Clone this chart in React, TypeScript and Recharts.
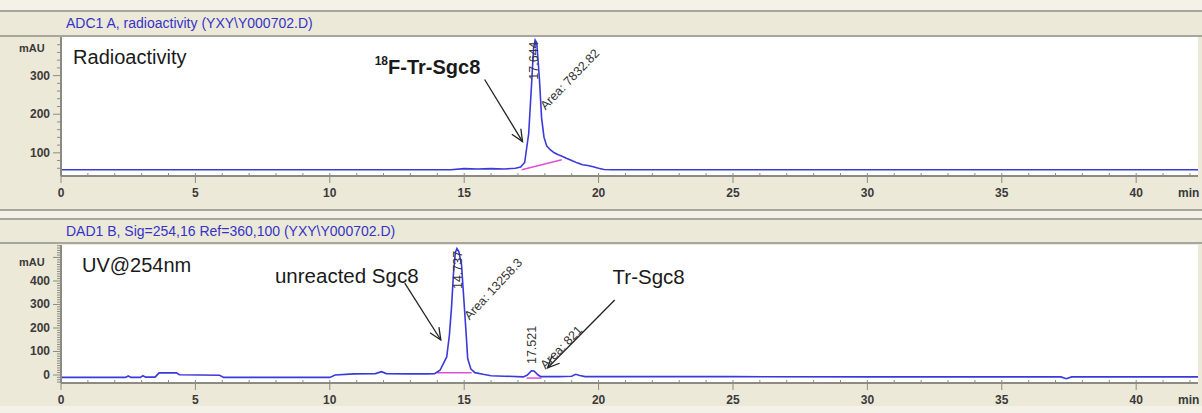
import { CartesianGrid, Line, LineChart, ReferenceDot, ReferenceLine, XAxis, YAxis } from "recharts";

const FONT = '"Liberation Sans", Arial, sans-serif';
const BEIGE = "#ECE9D8";
const LIGHT = "#F4F2E8";
const RULE = "#A7A69C";
const AXIS_GREY = "#8C8B82";
const TRACE = "#3A3ADC";
const PINK = "#E04FD8";
const HEAD_BLUE = "#3434C8";
const INK = "#1A1A1A";
const TICK_INK = "#3a3a3a";

// retention time (min)
const xTicks = [0, 1, 2, 3, 4, 5, 6, 7, 8, 9, 10, 11, 12, 13, 14, 15, 16, 17, 18, 19, 20, 21, 22, 23, 24, 25, 26, 27, 28, 29, 30, 31, 32, 33, 34, 35, 36, 37, 38, 39, 40, 41, 42];
const xLabels = [0, 5, 10, 15, 20, 25, 30, 35, 40];

// radioactivity trace (mAU)
const radTime = [0, 5, 10, 14.5, 15.0, 15.5, 16.0, 16.5, 16.9, 17.1, 17.25, 17.4, 17.5, 17.58, 17.64, 17.7, 17.8, 17.88, 17.97, 18.07, 18.2, 18.35, 18.5, 18.62, 18.8, 19.0, 19.2, 19.4, 19.6, 19.8, 20.0, 20.2, 20.5, 25, 30, 35, 42.3];
const radSignal = [56, 56, 56, 56, 59, 58, 59, 58, 60, 63, 75, 150, 270, 370, 392, 385, 290, 190, 140, 118, 108, 100, 95, 92, 86, 80, 74, 69, 67, 64, 60, 57, 56, 56, 56, 56, 56];
const radBaseTime = [17.14, 18.63];
const radBaseSignal = [56, 82];
const radYTicks = [60, 80, 100, 120, 140, 160, 180, 200, 220, 240, 260, 280, 300, 320, 340, 360, 380];
const radYLabels = [100, 200, 300];

// UV 254 nm trace (mAU)
const uvTime = [0, 2.4, 2.5, 2.6, 2.95, 3.05, 3.15, 3.5, 3.65, 4.3, 4.4, 5.9, 6.05, 10.0, 10.2, 10.9, 11.7, 11.92, 12.1, 13.0, 13.6, 13.9, 14.1, 14.35, 14.45, 14.53, 14.6, 14.67, 14.73, 14.8, 14.9, 15.0, 15.07, 15.13, 15.25, 15.4, 15.7, 16.0, 16.5, 17.2, 17.35, 17.5, 17.6, 17.75, 17.85, 18.5, 19.0, 19.15, 19.3, 19.5, 25, 30, 37.2, 37.4, 37.6, 42.3];
const uvSignal = [-10, -10, -4, -10, -10, -3, -9, -9, 9, 9, 1, -1, -10, -10, 0, 5, 6, 14, 6, 5, 5, 6, 20, 77, 170, 290, 430, 520, 538, 525, 470, 300, 180, 70, 25, 10, 3, -3, -5, -8, 0, 18, 17, 0, -7, -7, -5, 3, -2, -7, -7, -8, -8, -16, -8, -8];
const uvBaseATime = [13.98, 15.28];
const uvBaseASignal = [10, 10];
const uvBaseBTime = [17.32, 17.88];
const uvBaseBSignal = [-13, -13];
const uvYTicks = [-30, -20, -10, 0, 10, 20, 30, 40, 50, 60, 70, 80, 90, 100, 110, 120, 130, 140, 150, 160, 170, 180, 190, 200, 210, 220, 230, 240, 250, 260, 270, 280, 290, 300, 310, 320, 330, 340, 350, 360, 370, 380, 390, 400, 410, 420, 430, 440, 450, 460, 470, 480, 490, 500, 510, 520, 530, 540, 550];
const uvYLabels = [0, 100, 200, 300, 400];

const zip = (t: number[], v: number[]) => t.map((x, i) => ({ t: x, v: v[i] }));

type Note = { text: any; t: number; v: number; size: number; bold?: boolean; rotate?: number; anchor?: string };
type Arrow = { from: [number, number]; to: [number, number] };

const radNotes: Note[] = [
  { text: "Radioactivity", t: 0.45, v: 347, size: 20 },
  { text: "sup", t: 11.67, v: 323, size: 20, bold: true },
  { text: "17.644", t: 17.58, v: 339, size: 12.5, rotate: -90, anchor: "middle" },
  { text: "Area: 7832.82", t: 17.92, v: 217, size: 12.5, rotate: -46 },
];
const radArrows: Arrow[] = [{ from: [15.76, 290], to: [17.17, 129] }];

const uvNotes: Note[] = [
  { text: "UV@254nm", t: 0.78, v: 468, size: 20 },
  { text: "unreacted Sgc8", t: 7.96, v: 425, size: 20.5 },
  { text: "14.737", t: 14.76, v: 447, size: 12.5, rotate: -90, anchor: "middle" },
  { text: "Area: 13258.3", t: 15.09, v: 243, size: 12.5, rotate: -47 },
  { text: "17.521", t: 17.51, v: 128, size: 12.5, rotate: -90, anchor: "middle" },
  { text: "Area: 821", t: 17.92, v: 34, size: 12.5, rotate: -46 },
  { text: "Tr-Sgc8", t: 20.52, v: 417, size: 20.5 },
];
const uvArrows: Arrow[] = [
  { from: [12.79, 391], to: [14.13, 149] },
  { from: [20.6, 319], to: [18.1, 30] },
];

function renderXTick(p: any) {
  const { x, y, payload } = p;
  const major = xLabels.includes(payload.value);
  return (
    <g>
      <line x1={x} x2={x} y1={y - 3} y2={major ? y + 7 : y + 1} stroke={AXIS_GREY} strokeWidth={1} />
      {major && (
        <text x={x} y={y + 17} textAnchor="middle" dominantBaseline="central" fontSize={12} fontWeight="bold" fontFamily={FONT} fill={TICK_INK}>
          {payload.value}
        </text>
      )}
    </g>
  );
}

const makeYTick = (labels: number[]) => (p: any) => {
  const { x, y, payload } = p;
  const major = payload.value % 100 === 0;
  const show = labels.includes(payload.value);
  return (
    <g>
      <line x1={x - (major ? 8 : 4)} x2={x} y1={y} y2={y} stroke={AXIS_GREY} strokeWidth={1} />
      {show && (
        <text x={x - 11} y={y} textAnchor="end" dominantBaseline="central" fontSize={12} fontWeight="bold" fontFamily={FONT} fill={TICK_INK}>
          {payload.value}
        </text>
      )}
    </g>
  );
};

function NoteText({ n, cx, cy }: { n: Note; cx: number; cy: number }) {
  const tf = n.rotate ? `rotate(${n.rotate} ${cx} ${cy})` : undefined;
  if (n.text === "sup") {
    return (
      <text x={cx} y={cy} dominantBaseline="central" fontFamily={FONT} fontWeight="bold" fill={INK}>
        <tspan fontSize={12} dy={-6}>18</tspan>
        <tspan fontSize={n.size} dy={6}>F-Tr-Sgc8</tspan>
      </text>
    );
  }
  return (
    <text
      x={cx}
      y={cy}
      transform={tf}
      textAnchor={n.anchor ?? "start"}
      dominantBaseline="central"
      fontSize={n.size}
      fontWeight={n.bold ? "bold" : "normal"}
      fontFamily={FONT}
      fill={n.rotate ? "#333" : INK}
    >
      {n.text}
    </text>
  );
}

function arrowShape(p: any) {
  const { x1, y1, x2, y2 } = p;
  if ([x1, y1, x2, y2].some((v) => typeof v !== "number")) return <g />;
  const a = Math.atan2(y2 - y1, x2 - x1);
  const L = 13;
  const w = 0.42;
  const h1 = `${x2 - L * Math.cos(a - w)},${y2 - L * Math.sin(a - w)}`;
  const h2 = `${x2 - L * Math.cos(a + w)},${y2 - L * Math.sin(a + w)}`;
  return (
    <g>
      <line x1={x1} y1={y1} x2={x2} y2={y2} stroke="#222" strokeWidth={1.3} />
      <polyline points={`${h1} ${x2},${y2} ${h2}`} fill="none" stroke="#222" strokeWidth={1.3} />
    </g>
  );
}

function Panel({
  top,
  height,
  trace,
  bases,
  yDomain,
  yTicks,
  yLabels,
  notes,
  arrows,
}: {
  top: number;
  height: number;
  trace: { t: number; v: number }[];
  bases: { t: number; v: number }[][];
  yDomain: [number, number];
  yTicks: number[];
  yLabels: number[];
  notes: Note[];
  arrows: Arrow[];
}) {
  return (
    <div style={{ position: "absolute", left: 0, top }}>
      <LineChart width={1202} height={height} margin={{ top: 1, right: 4, bottom: 0, left: 0 }}>
        <CartesianGrid horizontal={false} vertical={false} fill="#ffffff" />
        <XAxis
          type="number"
          dataKey="t"
          domain={[0, 42.3]}
          ticks={xTicks}
          interval={0}
          tick={renderXTick}
          tickLine={false}
          tickSize={0}
          tickMargin={0}
          axisLine={{ stroke: AXIS_GREY, strokeWidth: 2 }}
          height={24}
          allowDataOverflow
        />
        <YAxis
          type="number"
          dataKey="v"
          domain={yDomain}
          ticks={yTicks}
          interval={0}
          tick={makeYTick(yLabels)}
          tickLine={false}
          tickSize={0}
          tickMargin={0}
          axisLine={{ stroke: AXIS_GREY, strokeWidth: 2 }}
          width={61}
          allowDataOverflow
        />
        {bases.map((b, i) => (
          <Line key={"b" + i} data={b} dataKey="v" type="linear" stroke={PINK} strokeWidth={1.5} dot={false} isAnimationActive={false} />
        ))}
        <Line data={trace} dataKey="v" type="linear" stroke={TRACE} strokeWidth={1.6} dot={false} isAnimationActive={false} />
        {arrows.map((a, i) => (
          <ReferenceLine
            key={"a" + i}
            segment={[
              { x: a.from[0], y: a.from[1] },
              { x: a.to[0], y: a.to[1] },
            ]}
            ifOverflow="visible"
            shape={arrowShape}
          />
        ))}
        {notes.map((n, i) => (
          <ReferenceDot
            key={"n" + i}
            x={n.t}
            y={n.v}
            r={0}
            ifOverflow="visible"
            shape={(p: any) => <NoteText n={n} cx={p.cx} cy={p.cy} />}
          />
        ))}
      </LineChart>
    </div>
  );
}

const band = (top: number, height: number, bg: string) => (
  <div style={{ position: "absolute", left: 0, top, width: 1202, height, background: bg }} />
);

const label = (text: string, left: number, top: number, extra: any = {}) => (
  <div
    style={{
      position: "absolute",
      left,
      top,
      fontFamily: FONT,
      fontSize: 12,
      lineHeight: "14px",
      whiteSpace: "nowrap",
      ...extra,
    }}
  >
    {text}
  </div>
);

export default function App() {
  return (
    <div style={{ position: "absolute", left: 0, top: 0, width: 1202, height: 413, background: BEIGE, overflow: "hidden" }}>
      {band(0, 10, LIGHT)}
      {band(10, 2, RULE)}
      {band(35, 2, RULE)}
      {label("ADC1 A, radioactivity (YXY\\Y000702.D)", 66, 15, { color: HEAD_BLUE, fontSize: 14, lineHeight: "16px" })}
      {band(209, 2, RULE)}
      {band(211, 7, LIGHT)}
      {band(218, 2, RULE)}
      {band(242, 2, RULE)}
      {label("DAD1 B, Sig=254,16 Ref=360,100 (YXY\\Y000702.D)", 66, 223, { color: HEAD_BLUE, fontSize: 14, lineHeight: "16px" })}
      {band(406, 7, LIGHT)}

      <Panel
        top={36}
        height={164}
        trace={zip(radTime, radSignal)}
        bases={[zip(radBaseTime, radBaseSignal)]}
        yDomain={[40, 400]}
        yTicks={radYTicks}
        yLabels={radYLabels}
        notes={radNotes}
        arrows={radArrows}
      />
      <Panel
        top={244}
        height={163}
        trace={zip(uvTime, uvSignal)}
        bases={[zip(uvBaseATime, uvBaseASignal), zip(uvBaseBTime, uvBaseBSignal)]}
        yDomain={[-34, 553]}
        yTicks={uvYTicks}
        yLabels={uvYLabels}
        notes={uvNotes}
        arrows={uvArrows}
      />

      {label("mAU", 19, 41, { color: TICK_INK, fontSize: 11, fontWeight: "bold" })}
      {label("mAU", 19, 255, { color: TICK_INK, fontSize: 11, fontWeight: "bold" })}
      {label("min", 1178, 186, { color: TICK_INK, fontWeight: "bold" })}
      {label("min", 1178, 393, { color: TICK_INK, fontWeight: "bold" })}
    </div>
  );
}
